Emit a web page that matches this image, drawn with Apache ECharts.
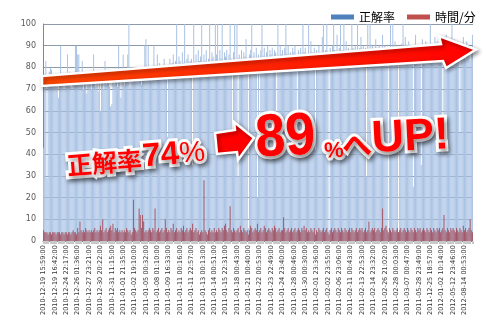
<!DOCTYPE html>
<html><head><meta charset="utf-8">
<script src="https://cdn.jsdelivr.net/npm/echarts@6/dist/echarts.min.js"></script>
<style>html,body{margin:0;padding:0;background:#fff}#c{width:483px;height:320px}</style>
</head><body><div id="c"></div>
<script>
const tickLabels = [
'2010-12-19 15:59:00','2010-12-19 16:42:00','2010-12-24 22:17:00','2010-12-26 01:36:00','2010-12-27 23:21:00',
'2010-12-30 20:22:00','2010-12-31 11:15:00','2011-01-01 21:35:00','2011-01-02 19:10:00','2011-01-05 00:32:00',
'2011-01-08 01:10:00','2011-01-09 16:33:00','2011-01-11 00:16:00','2011-01-11 22:57:00','2011-01-13 00:13:00',
'2011-01-14 00:51:00','2011-01-15 22:31:00','2011-01-18 00:43:00','2011-01-21 00:40:00','2011-01-22 00:53:00',
'2011-01-23 22:49:00','2011-01-24 23:40:00','2011-01-28 00:46:00','2011-01-30 00:30:00','2011-02-01 23:36:00',
'2011-02-02 23:55:00','2011-02-06 23:06:00','2011-02-11 00:43:00','2011-02-13 22:53:00','2011-02-14 23:32:00',
'2011-02-26 21:02:00','2011-02-28 00:03:00','2011-03-07 00:47:00','2011-05-28 23:49:00','2011-12-25 18:57:00',
'2012-01-02 10:14:00','2012-05-12 23:46:00','2012-08-14 00:53:00'
];
const accuracy = [
43,77,83,29,72,78,80,79,74,76,
73,75,71,66,77,90,72,74,70,76,
74,86,72,78,71,69,75,73,90,90,
86,86,74,72,83,70,76,73,68,75,
72,74,70,76,86,73,71,75,69,74,
60,73,75,70,83,72,76,74,71,62,
63,74,72,77,73,71,90,75,66,78,
86,72,76,74,86,100,71,78,73,75,
77,74,79,73,80,76,72,78,75,90,
93,78,90,76,80,74,79,90,77,81,
86,79,82,76,80,78,84,77,81,48,
80,84,78,82,86,79,83,100,81,85,
83,80,87,82,100,79,84,86,81,83,
84,35,100,82,86,80,88,83,85,100,
81,86,83,88,80,84,100,82,87,85,
83,100,86,100,81,88,84,100,82,87,
85,88,83,86,100,84,40,87,100,83,
100,30,86,84,88,82,87,85,93,84,
6,86,88,100,84,87,83,89,20,86,
45,88,100,85,89,84,87,90,83,88,
86,89,84,88,87,50,100,85,90,86,
88,84,89,100,86,90,85,87,83,89,
87,90,85,38,88,82,89,84,100,87,
89,85,83,100,86,92,87,84,89,42,
88,83,90,87,85,94,100,82,88,100,
87,5,89,83,90,100,88,85,95,87,
89,100,84,88,100,87,92,82,89,88,
86,100,89,83,90,88,100,84,89,94,
88,90,82,89,30,100,88,100,83,90,
89,84,93,88,82,90,89,85,95,88,
90,83,89,3,88,100,84,100,89,92,
88,90,4,89,83,91,100,86,94,82,
89,92,84,90,86,25,89,95,83,90,
88,90,35,93,84,89,92,83,90,87,
100,85,91,88,94,82,92,89,84,90,
91,40,86,90,95,83,89,91,85,100,
89,93,84,90,92,83,50,90,86,94,
88,84,92,87,90,83,89,95
];
const minutes = [
5,4,4,4,3,4,4,3,4,4,
4,3,4,4,4,3,4,4,3,4,
4,3,4,4,3,4,5,4,4,3,
6,4,9,5,4,5,4,6,5,4,
5,4,5,4,5,6,4,5,4,5,
7,5,10,4,5,6,4,5,6,7,
5,8,4,6,5,6,4,5,4,5,
4,5,4,6,5,4,5,3,4,19,
6,5,4,5,15,12,6,12,9,4,
5,4,5,6,5,4,6,5,15,4,
5,6,4,5,6,4,5,10,6,4,
5,4,6,5,8,4,5,6,4,5,
4,6,5,7,4,5,6,4,5,6,
5,8,4,5,6,4,5,3,4,5,
4,28,5,4,3,5,6,4,5,4,
6,4,5,4,6,5,4,6,5,7,
8,5,4,6,16,5,4,6,5,4,
5,6,4,7,5,4,6,5,4,5,
3,5,7,6,4,5,6,5,8,4,
5,6,4,5,7,6,4,5,6,5,
4,6,5,7,6,4,5,6,4,5,
5,11,6,4,5,6,4,5,6,4,
5,6,4,5,6,5,4,6,5,7,
5,6,4,5,4,6,5,4,6,3,
5,4,6,5,4,5,6,4,5,6,
4,3,5,6,4,5,6,5,4,6,
5,4,6,5,4,6,5,4,5,6,
4,6,5,4,5,6,4,5,6,5,
6,4,5,6,4,5,9,4,5,6,
5,6,4,5,6,5,4,6,15,5,
6,7,5,4,6,5,4,6,5,4,
5,6,4,5,6,4,5,6,5,4,
6,5,4,6,5,4,6,5,4,6,
5,6,4,5,6,5,4,6,5,4,
6,5,4,6,5,4,6,5,6,4,
5,6,12,5,4,6,5,4,6,5,
6,5,4,6,5,4,6,5,4,7,
5,6,4,5,6,10,5,4
];
const seriesNames = ['正解率', '時間/分'];
const categories = accuracy.map((_, i) => String(i));

const chart = echarts.init(document.getElementById('c'), null, {renderer: 'canvas'});

function outlinedText(x, y, text, font, extra) {
  const base = Object.assign({x: x, y: y}, extra || {});
  const back = Object.assign({}, base, {
    type: 'text', z: 101,
    style: {text: text, font: font, fill: '#fff', stroke: '#fff', lineWidth: 6, lineJoin: 'round',
      align: 'left', verticalAlign: 'bottom',
      textShadowBlur: 4, textShadowColor: 'rgba(0,0,0,0.45)', textShadowOffsetX: 2, textShadowOffsetY: 3}
  });
  const front = Object.assign({}, base, {
    type: 'text', z: 102,
    style: {text: text, font: font, fill: '#ff0000', align: 'left', verticalAlign: 'bottom'}
  });
  return [back, front];
}

const bigArrowGrad = new echarts.graphic.LinearGradient(0, 0, 1, 0, [
  {offset: 0, color: '#ff4800'}, {offset: 1, color: '#ff0000'}
]);

const option = {
  animation: false,
  backgroundColor: '#ffffff',
  grid: {left: 43, right: 10, top: 24, bottom: 79, outerBoundsMode: 'none'},
  legend: {
    left: 326, top: 6, itemWidth: 23, itemHeight: 5, itemGap: 12, icon: 'rect',
    textStyle: {fontSize: 12, fontFamily: 'Noto Sans CJK JP', color: '#000'},
    data: [
      {name: seriesNames[0], itemStyle: {color: '#4F81BD'}},
      {name: seriesNames[1], itemStyle: {color: '#C0504D'}}
    ]
  },
  xAxis: {
    type: 'category', data: categories, boundaryGap: true,
    axisLine: {lineStyle: {color: '#868686'}},
    axisTick: {show: true, interval: 0, length: 3, lineStyle: {color: '#c8c8c8'}},
    axisLabel: {
      interval: 9, rotate: 90, fontSize: 6.6, fontFamily: 'DejaVu Sans', color: '#333', margin: 4,
      formatter: (v, i) => (i % 10 === 0 ? tickLabels[i / 10] : '')
    }
  },
  yAxis: {
    type: 'value', min: 0, max: 100, interval: 10,
    axisLine: {show: true, lineStyle: {color: '#868686'}},
    axisTick: {show: false},
    axisLabel: {fontSize: 8, fontFamily: 'DejaVu Sans', color: '#595959', margin: 7},
    splitLine: {lineStyle: {color: '#8f9aa8'}}
  },
  series: [
    {name: seriesNames[0], type: 'bar', data: accuracy, itemStyle: {color: '#a9c2e4'}},
    {name: seriesNames[1], type: 'bar', data: minutes, barGap: '-100%', barCategoryGap: '35%', itemStyle: {color: '#a35868'}}
  ],
  graphic: [
    {
      type: 'polygon', z: 100,
      shape: {points: [[42, 76], [441, 44], [439, 36], [476, 49.5], [446, 68], [443, 61], [42, 86]]},
      style: {fill: bigArrowGrad, stroke: '#fff', lineWidth: 2.5, lineJoin: 'miter',
        shadowBlur: 4, shadowColor: 'rgba(0,0,0,0.4)', shadowOffsetX: 2, shadowOffsetY: 2}
    },
    {
      type: 'group', x: 68, y: 178, rotation: 0.08, z: 101,
      children: [].concat(
        outlinedText(0, 0, '正解率', 'bold 25px "Noto Sans CJK JP"'),
        outlinedText(76, 2, '74', 'bold 33px "Liberation Sans"'),
        outlinedText(113, 0, '%', '29px "Liberation Sans"')
      )
    },
    {
      type: 'polygon', z: 100,
      shape: {points: [[215, 133], [235, 130], [234, 122], [254, 138], [238, 160], [237, 152], [217, 154]]},
      style: {fill: '#ff0000', stroke: '#fff', lineWidth: 2.5,
        shadowBlur: 4, shadowColor: 'rgba(0,0,0,0.4)', shadowOffsetX: 2, shadowOffsetY: 2}
    },
    {
      type: 'group', x: 257, y: 170, rotation: 0.05, z: 101,
      children: [].concat(
        outlinedText(0, 0, '89', 'bold 60px "Liberation Sans"', {scaleX: 0.9}),
        outlinedText(68, -4, '%', 'bold 22px "Liberation Sans"'),
        outlinedText(86, -5, 'へ', 'bold 30px "Noto Sans CJK JP"'),
        outlinedText(116, -2, 'UP!', 'bold 45px "Liberation Sans"')
      )
    }
  ]
};
chart.setOption(option);
</script></body></html>
